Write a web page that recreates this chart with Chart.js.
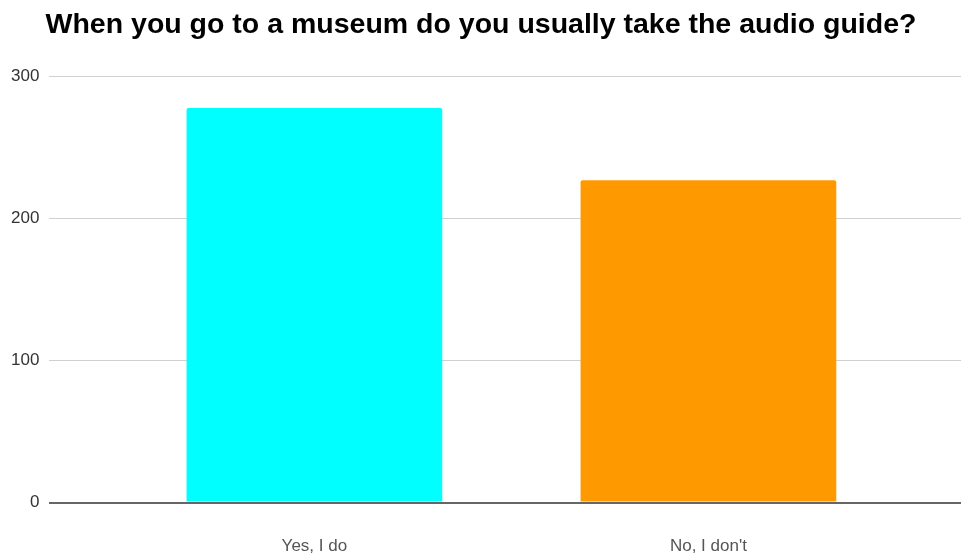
<!DOCTYPE html>
<html>
<head>
<meta charset="utf-8">
<script src="https://cdn.jsdelivr.net/npm/chart.js@4"></script>
<style>
  html, body { margin: 0; padding: 0; background: #fff; overflow: hidden; }
  canvas { display: block; }
</style>
</head>
<body>
<canvas id="guideChart" width="961" height="557"></canvas>
<script>
// survey answers
var answers = ['Yes, I do', "No, I don't"];
var counts = [278, 227];
var barColors = ['#00ffff', '#ff9900'];
var yTicks = [0, 100, 200, 300];

document.addEventListener('DOMContentLoaded', function () {
  var ctx = document.getElementById('guideChart').getContext('2d');
  Chart.defaults.font.family = "'Liberation Sans', Arial, sans-serif";

  var points = counts.map(function (v, i) { return { x: i, y: v }; });

  new Chart(ctx, {
    type: 'bar',
    data: {
      datasets: [{
        data: points,
        backgroundColor: barColors,
        borderRadius: 2,
        borderSkipped: 'bottom',
        categoryPercentage: 1,
        barPercentage: 0.649
      }]
    },
    options: {
      responsive: false,
      animation: false,
      layout: { padding: { left: 1, right: 0, top: 0, bottom: 0 } },
      plugins: {
        legend: { display: false },
        tooltip: { enabled: false },
        title: {
          display: true,
          text: 'When you go to a museum do you usually take the audio guide?',
          color: '#000',
          font: { size: 28.5, weight: 'bold' },
          padding: { top: 8, bottom: 34.5 }
        }
      },
      scales: {
        x: {
          type: 'linear',
          min: -0.6726,
          max: 1.641,
          offset: false,
          grid: { display: false, drawTicks: false },
          border: { display: false },
          // labels sit well below the baseline; keep only one padding gap in the axis height
          afterFit: function (scale) { scale.height = 54.5; },
          ticks: {
            stepSize: 1,
            includeBounds: false,
            autoSkip: false,
            maxRotation: 0,
            padding: 34,
            color: '#555',
            font: { size: 17 },
            callback: function (value) { return answers[value] !== undefined ? answers[value] : ''; }
          }
        },
        y: {
          min: 0,
          max: 300,
          afterBuildTicks: function (axis) {
            axis.ticks = yTicks.map(function (v) { return { value: v }; });
          },
          border: { display: false },
          grid: {
            drawTicks: false,
            color: function (c) { return c.tick && c.tick.value === 0 ? '#666' : '#d0d0d0'; },
            lineWidth: function (c) { return c.tick && c.tick.value === 0 ? 2 : 1; }
          },
          ticks: {
            padding: 10,
            color: '#333',
            font: { size: 17 }
          }
        }
      }
    }
  });
});
</script>
</body>
</html>
